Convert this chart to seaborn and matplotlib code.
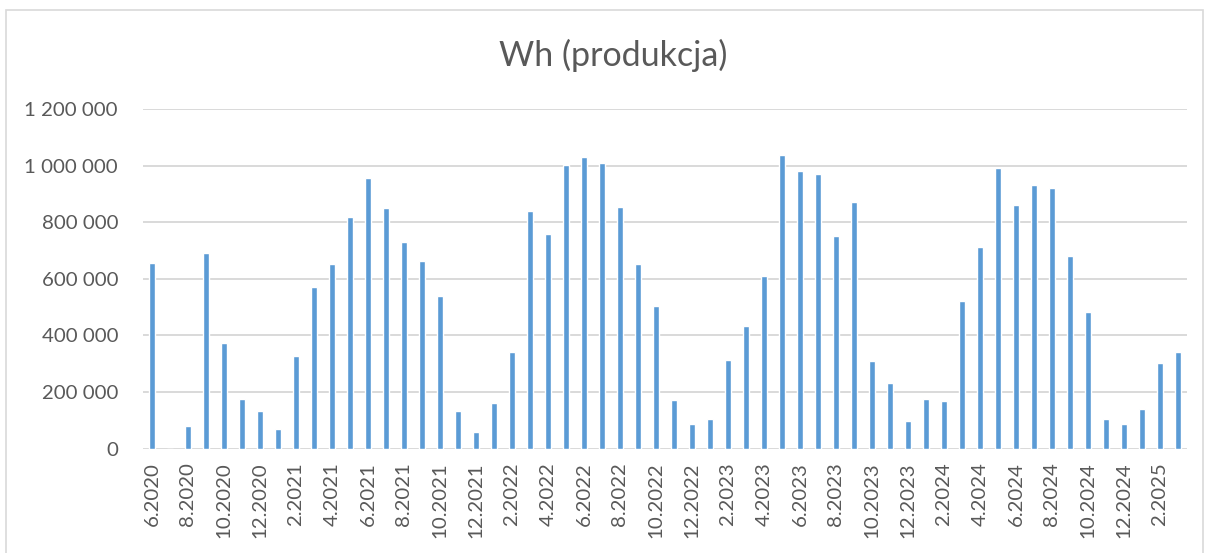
import matplotlib
matplotlib.use("Agg")
import matplotlib.pyplot as plt
import matplotlib.ticker as mticker
from matplotlib.patches import Rectangle
import pandas as pd
import seaborn as sns

months = [f"{m}.2020" for m in range(6, 13)] \
    + [f"{m}.{y}" for y in (2021, 2022, 2023, 2024) for m in range(1, 13)] \
    + [f"{m}.2025" for m in range(1, 4)]

wh = [
    656000, 0, 80000, 692000, 372000, 175000, 133000,
    68000, 327000, 571000, 651000, 818000, 955000, 849000, 729000, 662000, 541000, 133000, 59000,
    160000, 342000, 840000, 760000, 1001000, 1030000, 1009000, 853000, 654000, 505000, 171000, 86000,
    105000, 313000, 432000, 610000, 1036000, 981000, 970000, 751000, 871000, 309000, 231000, 98000,
    175000, 167000, 520000, 714000, 990000, 861000, 932000, 920000, 682000, 482000, 104000, 89000,
    139000, 301000, 342000,
]

df = pd.DataFrame({"miesiac": months, "wh": wh})

sns.set_style("white")
plt.rcParams["font.family"] = ["Lato", "DejaVu Sans"]
grey = "#595959"

fig = plt.figure(figsize=(12.06, 5.53), dpi=100)
ax = fig.add_axes([143 / 1206, 104.3 / 553, 1044 / 1206, 339.7 / 553])

sns.barplot(data=df, x="miesiac", y="wh", order=months, color="#5b9bd5",
            saturation=1, width=0.3, ax=ax)

ax.set_ylim(0, 1200000)
ax.set_xlim(-0.5, len(months) - 0.5)
ax.set_yticks(range(0, 1200001, 200000))
ax.yaxis.set_major_formatter(mticker.FuncFormatter(lambda v, p: f"{int(v):,}".replace(",", " ")))
ax.set_xticks(range(0, len(months), 2))
ax.set_xticklabels(months[::2], rotation=90, va="top", ha="center")

ax.grid(axis="y", color="#d9d9d9", linewidth=1.4)
ax.set_axisbelow(True)
for s in ax.spines.values():
    s.set_visible(False)
ax.tick_params(axis="y", length=0, pad=18, labelsize=14.7, labelcolor=grey)
ax.tick_params(axis="x", length=0, pad=10, labelsize=14.7, labelcolor=grey)
ax.set_xlabel("")
ax.set_ylabel("")

fig.text(613 / 1206, 1 - 55 / 553, "Wh (produkcja)", ha="center", va="center",
         fontsize=24.5, color=grey)

fig.add_artist(Rectangle((6 / 1206, -0.1), 1197 / 1206, 1.1 - 10 / 553,
                         transform=fig.transFigure, fill=False,
                         edgecolor="#d9d9d9", linewidth=1.2))

fig.savefig("out.png", dpi=100)
